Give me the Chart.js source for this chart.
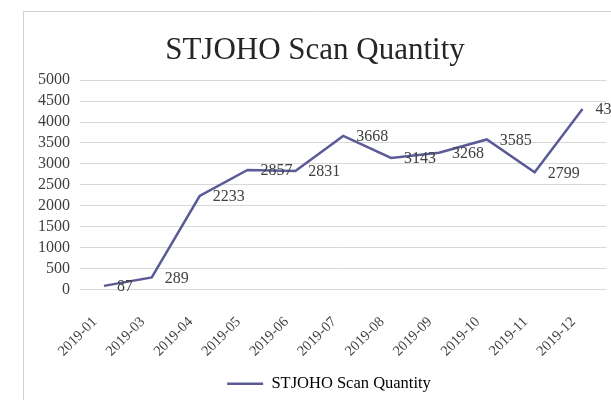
<!DOCTYPE html>
<html>
<head>
<meta charset="utf-8">
<script src="https://cdn.jsdelivr.net/npm/chart.js@4/dist/chart.umd.min.js"></script>
<style>
  html, body { margin: 0; padding: 0; background: #fff; }
  #wrap { width: 611px; height: 400px; }
</style>
</head>
<body>
<div id="wrap"><canvas id="myChart" width="611" height="400"></canvas></div>
<script>
const months = ['2019-01', '2019-03', '2019-04', '2019-05', '2019-06', '2019-07',
    '2019-08', '2019-09', '2019-10', '2019-11', '2019-12'];
const scanQty = [87, 289, 2233, 2857, 2831, 3668, 3143, 3268, 3585, 2799, 4310];
const seriesName = 'STJOHO Scan Quantity';

const serif = "'Liberation Serif', 'DejaVu Serif', serif";
const lineColor = '#5b5b97';
const textColor = '#404040';

// outer chart frame (only left/top edges are visible in the picture)
const framePlugin = {
    id: 'frame',
    beforeDraw: (chart) => {
        const ctx = chart.ctx;
        ctx.save();
        ctx.strokeStyle = '#d0d0d0';
        ctx.lineWidth = 1;
        ctx.beginPath();
        ctx.moveTo(23.5, 400);
        ctx.lineTo(23.5, 11.5);
        ctx.lineTo(611, 11.5);
        ctx.stroke();
        ctx.restore();
    },
    // legend sits a bit right of centre in the original
    afterLayout: (chart) => {
        if (chart.legend) {
            chart.legend.left += 14;
            chart.legend.right += 14;
        }
    }
};

// value labels to the right of each point
const valueLabels = {
    id: 'valueLabels',
    afterDatasetsDraw: (chart) => {
        const ctx = chart.ctx;
        const meta = chart.getDatasetMeta(0);
        const data = chart.data.datasets[0].data;
        ctx.save();
        ctx.font = "16px " + serif;
        ctx.fillStyle = textColor;
        ctx.textAlign = 'left';
        ctx.textBaseline = 'middle';
        meta.data.forEach((pt, i) => {
            ctx.fillText(String(data[i]), pt.x + 13, pt.y + 1);
        });
        ctx.restore();
    }
};

new Chart(document.getElementById('myChart'), {
    type: 'line',
    data: {
        labels: months,
        datasets: [{
            label: seriesName,
            data: scanQty,
            borderColor: lineColor,
            backgroundColor: lineColor,
            borderWidth: 2.5,
            pointRadius: 0,
            tension: 0
        }]
    },
    options: {
        responsive: false,
        animation: false,
        layout: {
            padding: { top: 11, left: 23, right: 4, bottom: -2 }
        },
        plugins: {
            title: {
                display: true,
                text: 'STJOHO Scan Quantity',
                color: '#262626',
                font: { family: serif, size: 31, weight: 'normal' },
                padding: { top: 21, bottom: 11 }
            },
            legend: {
                position: 'bottom',
                labels: {
                    color: textColor,
                    font: { family: serif, size: 16.5 },
                    boxWidth: 36,
                    boxHeight: 0,
                    padding: 6,
                    generateLabels: (chart) => [{
                        text: seriesName,
                        strokeStyle: lineColor,
                        fillStyle: lineColor,
                        lineWidth: 2.5,
                        datasetIndex: 0
                    }]
                }
            },
            tooltip: { enabled: false }
        },
        scales: {
            x: {
                offset: true,
                grid: { display: false },
                border: { display: false },
                ticks: {
                    color: textColor,
                    font: { family: serif, size: 14.5 },
                    minRotation: 45,
                    maxRotation: 45,
                    padding: 16,
                    labelOffset: -9
                },
                afterFit: (scale) => { scale.height = 80; }
            },
            y: {
                min: 0,
                max: 5000,
                ticks: {
                    stepSize: 500,
                    autoSkip: false,
                    color: textColor,
                    font: { family: serif, size: 16 },
                    padding: 10,
                    callback: (v) => String(v)
                },
                grid: { color: '#d9d9d9', drawTicks: false },
                border: { display: false },
                afterFit: (scale) => { scale.width = 57; }
            }
        }
    },
    plugins: [framePlugin, valueLabels]
});
</script>
</body>
</html>
